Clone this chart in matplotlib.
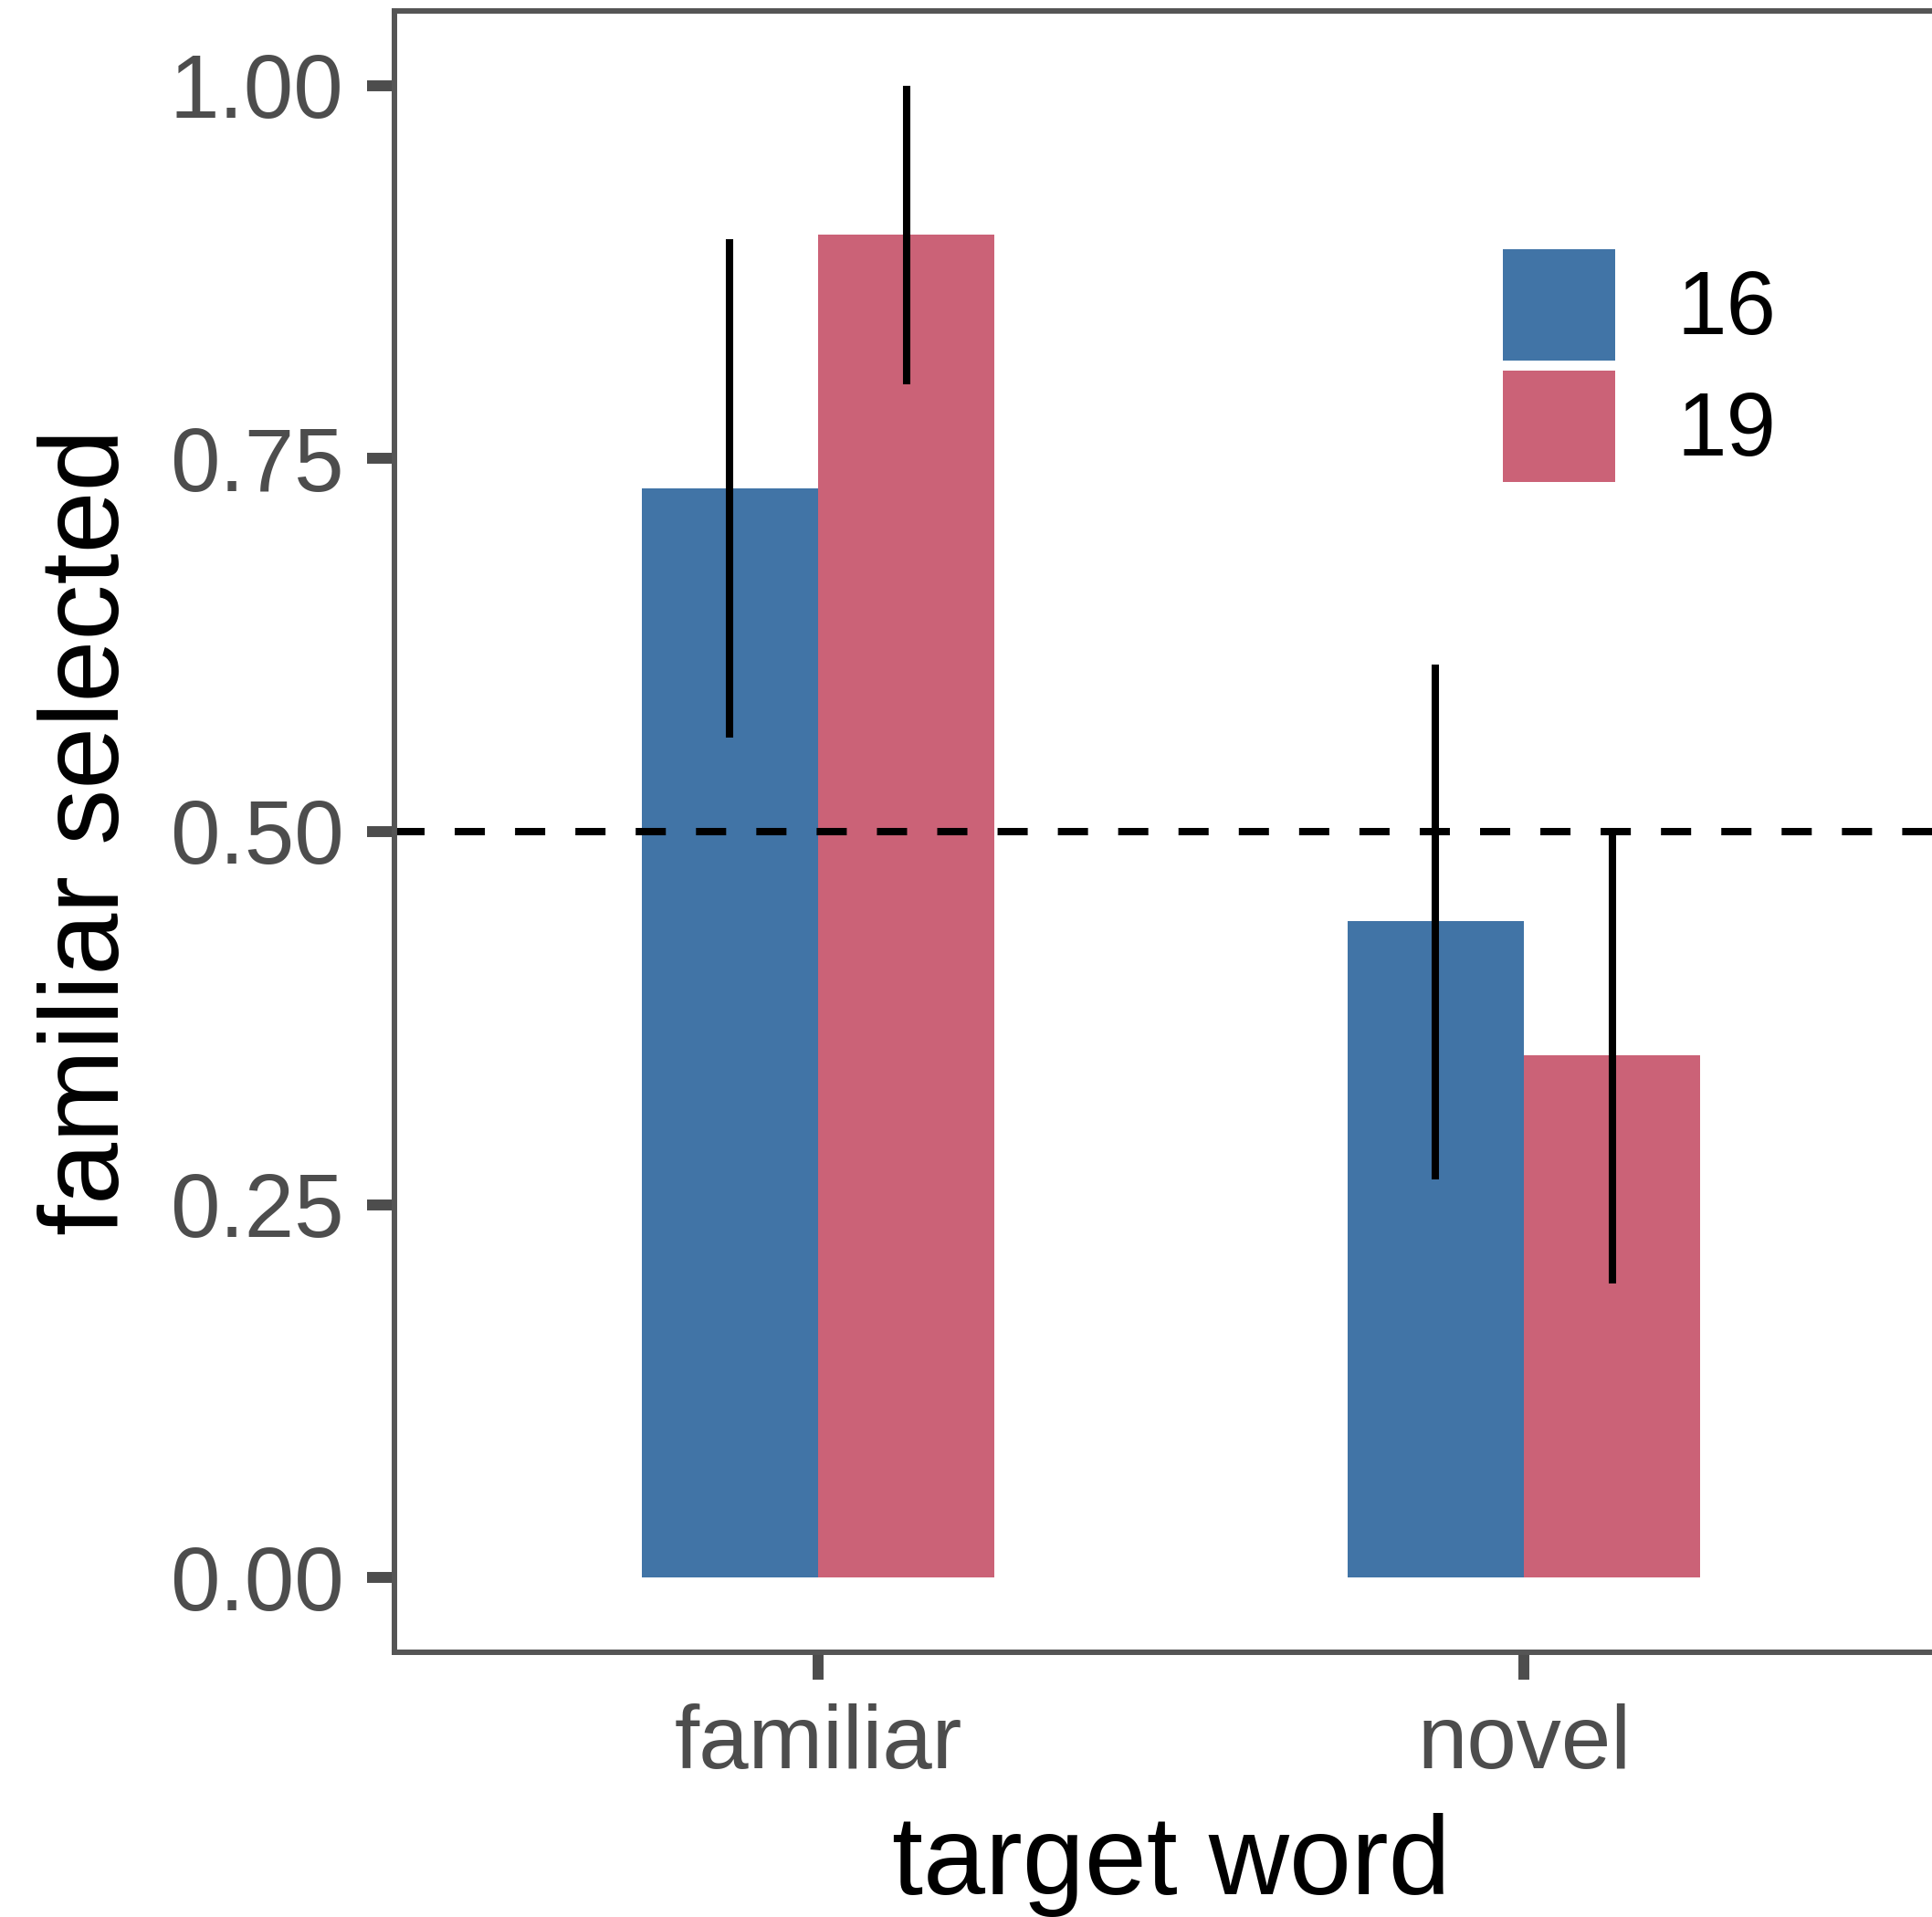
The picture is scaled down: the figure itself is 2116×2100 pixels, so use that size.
import numpy as np
import matplotlib
matplotlib.use("Agg")
import matplotlib.pyplot as plt
from matplotlib.patches import Patch

# proportion of trials where the familiar object was picked
targets = ["familiar", "novel"]
ages = ["16", "19"]
mean_16 = [0.73, 0.44]
mean_19 = [0.90, 0.35]
lo_16 = [0.563, 0.267]
hi_16 = [0.897, 0.612]
lo_19 = [0.800, 0.197]
hi_19 = [1.000, 0.500]
chance = 0.5

col_16 = "#4174A6"
col_19 = "#CB6277"
grey = "#4D4D4D"

plt.rcParams["font.family"] = ["Liberation Sans", "DejaVu Sans"]

fig = plt.figure(figsize=(21.16, 21.0), dpi=100)
ax = fig.add_axes([0.2043, 0.1381, 0.8037, 0.8562])

x = np.arange(len(targets))
w = 0.25
ax.bar(x - w / 2, mean_16, width=w, color=col_16, zorder=1)
ax.bar(x + w / 2, mean_19, width=w, color=col_19, zorder=1)

hl = ax.axhline(chance, color="black", lw=5.8, zorder=2)
hl.set_dashes((4.1, 4.1))

ax.vlines(x - w / 2, lo_16, hi_16, color="black", lw=5.8, zorder=3)
ax.vlines(x + w / 2, lo_19, hi_19, color="black", lw=5.8, zorder=3)

ax.set_xlim(-0.6, 1.6)
ax.set_ylim(-0.05, 1.05)
ax.set_xticks(x)
ax.set_xticklabels(targets)
ax.set_yticks([0, 0.25, 0.5, 0.75, 1.0])
ax.set_yticklabels(["0.00", "0.25", "0.50", "0.75", "1.00"])
ax.tick_params(axis="both", direction="out", length=21.6, width=8.6,
               color=grey, labelcolor=grey, labelsize=70.5)
ax.tick_params(axis="x", pad=18.5)
ax.tick_params(axis="y", pad=18.5)

for s in ax.spines.values():
    s.set_linewidth(4.3)
    s.set_color("#555555")

ax.set_xlabel("target word", fontsize=88, color="black")
ax.set_ylabel("familiar selected", fontsize=88, color="black")
ax.xaxis.set_label_coords(0.5, -0.098)
ax.yaxis.set_label_coords(-0.163, 0.5)

# square keys stacked close together, like a ggplot fill legend
handles = [Patch(facecolor=col_16, edgecolor="none"),
           Patch(facecolor=col_19, edgecolor="none")]
ax.legend(handles, ages, loc="upper left", bbox_to_anchor=(0.7779, 0.870),
          bbox_transform=fig.transFigure, frameon=False, fontsize=70.5,
          borderpad=0, borderaxespad=0, handlelength=1.255, handleheight=1.538,
          labelspacing=0.112, handletextpad=0.69)

fig.savefig("out.png", dpi=100)
